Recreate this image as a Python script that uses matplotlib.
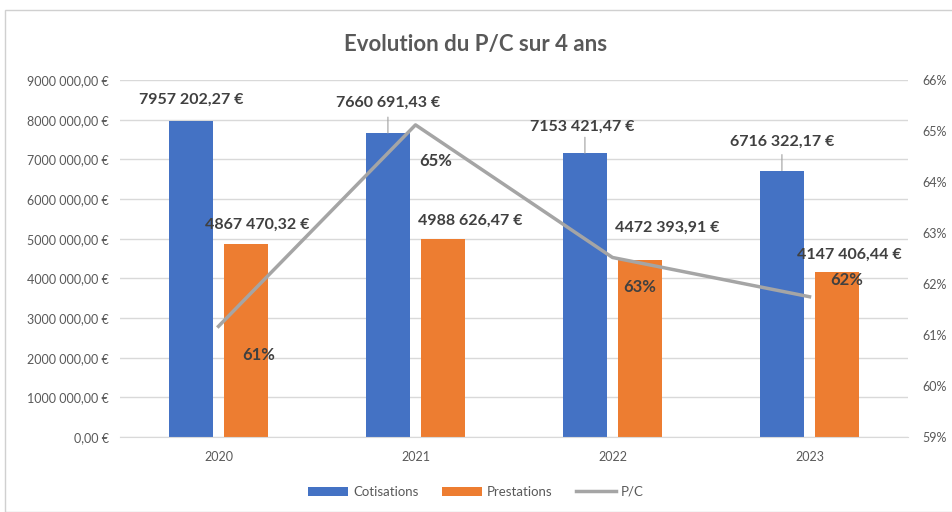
import matplotlib.pyplot as plt
import numpy as np
from matplotlib.patches import Rectangle
from matplotlib.ticker import FuncFormatter

years = ['2020', '2021', '2022', '2023']
cotisations = [7957202.27, 7660691.43, 7153421.47, 6716322.17]
prestations = [4867470.32, 4988626.47, 4472393.91, 4147406.44]
pc_ratio = [61.17, 65.12, 62.52, 61.75]  # %

blue = '#4472c4'
orange = '#ed7d31'
grey_line = '#a5a5a5'
text_grey = '#595959'
label_col = '#404040'

plt.rcParams['font.family'] = ['Lato', 'DejaVu Sans']


def euro(v, pos=None):
    s = f'{v:,.2f}'  # 7,957,202.27
    ent, dec = s.split('.')
    parts = ent.split(',')
    # excel shows the millions glued to the thousands: "7957 202,27"
    if len(parts) == 3:
        ent = parts[0] + parts[1] + ' ' + parts[2]
    else:
        ent = ' '.join(parts)
    return f'{ent},{dec} €'


fig = plt.figure(figsize=(9.52, 5.12), dpi=100)
fig.patches.append(Rectangle((5 / 952, 0), 1, 1 - 10 / 512, transform=fig.transFigure,
                             fill=False, edgecolor='#d0d0d0', linewidth=1))

ax = fig.add_axes([120 / 952, 1 - 437 / 512, 788 / 952, 357 / 512])
x = np.arange(len(years))
w = 0.225
off = 0.14

b1 = ax.bar(x - off, cotisations, w, color=blue, label='Cotisations', zorder=2)
b2 = ax.bar(x + off, prestations, w, color=orange, label='Prestations', zorder=2)

ax.set_ylim(0, 9000000)
ax.set_xlim(-0.5, 3.5)
ax.set_yticks(np.arange(0, 9000001, 1000000))
ax.yaxis.set_major_formatter(FuncFormatter(euro))
ax.set_xticks(x)
ax.set_xticklabels(years)
ax.grid(axis='y', color='#d9d9d9', linewidth=1, zorder=0)
ax.tick_params(length=0, labelsize=9, colors=text_grey, pad=8)
ax.tick_params(axis='x', pad=10)
for sp in ['top', 'right', 'left']:
    ax.spines[sp].set_visible(False)
ax.spines['bottom'].set_color('#d9d9d9')

ax2 = ax.twinx()
ln, = ax2.plot(x, pc_ratio, color=grey_line, linewidth=2.5, label='P/C', zorder=3)
ax2.set_ylim(59, 66)
ax2.set_yticks(range(59, 67))
ax2.yaxis.set_major_formatter(FuncFormatter(lambda v, p: f'{v:.0f}%'))
ax2.tick_params(length=0, labelsize=9, colors=text_grey, pad=10)
for sp in ax2.spines.values():
    sp.set_visible(False)

# data labels (offsets in pixels)
blue_off = [(0, 22), (0, 30), (-3, 26), (0, 29)]
orange_off = [(11, 19), (27, 18), (27, 32), (12, 18)]
pc_off = [(40, -29), (20, -36), (27, -30), (37, 17)]

for i in range(len(years)):
    ax.annotate(euro(cotisations[i]), (x[i] - off, cotisations[i]),
                xytext=blue_off[i], textcoords='offset pixels',
                ha='center', va='center', fontsize=11.5, fontweight='bold',
                color=label_col, zorder=5)
    ax.annotate(euro(prestations[i]), (x[i] + off, prestations[i]),
                xytext=orange_off[i], textcoords='offset pixels',
                ha='center', va='center', fontsize=11.5, fontweight='bold',
                color=label_col, zorder=5)
    ax2.annotate(f'{pc_ratio[i]:.0f}%', (x[i], pc_ratio[i]),
                 xytext=pc_off[i], textcoords='offset pixels',
                 ha='center', va='center', fontsize=12, fontweight='bold',
                 color=label_col, zorder=5)

# leader lines for the shifted cotisations labels
for i in [1, 2, 3]:
    ax.annotate('', (x[i] - off, cotisations[i]), xytext=(0, 16),
                textcoords='offset pixels',
                arrowprops=dict(arrowstyle='-', color='#a0a0a0', lw=0.8,
                                shrinkA=0, shrinkB=0))

fig.text(0.5, 1 - 45 / 512, 'Evolution du P/C sur 4 ans', ha='center', va='center',
         fontsize=16, fontweight='bold', color=text_grey)

fig.legend(handles=[b1, b2, ln], loc='center', bbox_to_anchor=(0.5, 1 - 492 / 512),
           ncol=3, frameon=False, fontsize=9.5, labelcolor=text_grey,
           handlelength=3, handletextpad=0.4, columnspacing=1.8)

fig.savefig('out.png', dpi=100)
